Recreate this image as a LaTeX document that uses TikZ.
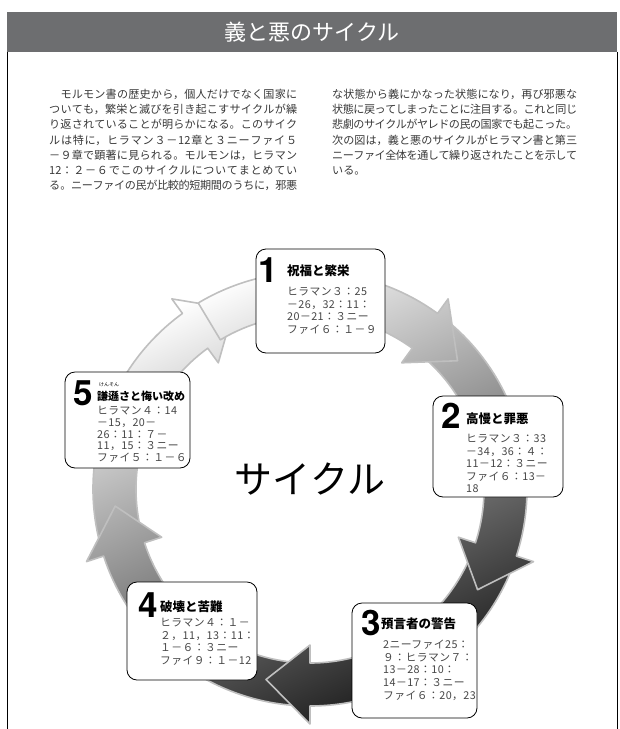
\documentclass[tikz,border=0pt]{standalone}
\usepackage{fontspec}
\setmainfont{Noto Sans CJK JP}
\newfontfamily\numfont{TeX Gyre Heros}
\newfontfamily\reffont[LetterSpace=4]{Noto Sans CJK JP}
\usetikzlibrary{positioning}
\XeTeXlinebreaklocale "ja"
\XeTeXlinebreakskip=0pt plus 2pt minus 1.5pt

\definecolor{barGray}{HTML}{6D6E70}

\tikzset{
  cyclebox/.style={draw=black, line width=0.8pt, fill=white, rounded corners=10pt, inner sep=0pt},
  bignum/.style={font=\numfont\bfseries\fontsize{35}{35}\selectfont, inner sep=0pt, anchor=base west},
  boxtitle/.style={font=\bfseries\fontsize{12.5}{14}\selectfont, inner sep=0pt, anchor=base west},
  refs/.style={font=\reffont\fontsize{10.8}{12.6}\selectfont, text=black!72, align=left, inner sep=0pt, anchor=north west},
  bodytext/.style={font=\fontsize{11.1}{15.2}\selectfont, text=black!78, align=justify, inner sep=0pt, anchor=north west},
  ringshade/.style={top color=white, middle color=black!30, bottom color=black!90, shading angle=25},
  ringedge/.style={draw=black!25, line width=1.6pt, line join=round}
}

\begin{document}
\begin{tikzpicture}[x=1pt,y=-1pt]
  \useasboundingbox (0,0) rectangle (620,729);

  % header
  \fill[barGray] (7,12) rectangle (617,52);
  \node[text=white, font=\fontsize{22}{22}\selectfont] (title) at (312,32) {義と悪のサイクル};
  \draw[line width=0.8pt] (7,52) -- (7,729);
  \draw[line width=0.8pt] (617,52) -- (617,729);

  % intro text
  \node[bodytext, text width=248pt] (leftcol) at (49,89) {\parfillskip=0pt \tolerance=9999
    　モルモン書の歴史から，個人だけでなく国家に\linebreak
    ついても，繁栄と滅びを引き起こすサイクルが繰\linebreak
    り返されていることが明らかになる。このサイク\linebreak
    ルは特に，ヒラマン３－12章と３ニーファイ５\linebreak
    －９章で顕著に見られる。モルモンは，ヒラマン\linebreak
    12：２－６でこのサイクルについてまとめてい\linebreak
    る。ニーファイの民が比較的短期間のうちに，邪悪};
  \node[bodytext, text width=245pt] (rightcol) at (332,89) {\tolerance=9999
    な状態から義にかなった状態になり，再び邪悪な\linebreak
    状態に戻ってしまったことに注目する。これと同じ\linebreak
    悲劇のサイクルがヤレドの民の国家でも起こった。\linebreak
    次の図は，義と悪のサイクルがヒラマン書と第三\linebreak
    ニーファイ全体を通して繰り返されたことを示して\linebreak
    いる。};

  % ring of arrows
  \begin{scope}[shift={(310,489)}]
    \foreach \s/\b/\t in {-167/-234/-247, -95/-162/-175, -23/-90/-103, 49/-18/-31, 121/54/41}{
      \begin{scope}
        \clip (\s:217pt) arc[start angle=\s, end angle=\b, radius=217pt] -- (\b:235pt) -- (\t:195.5pt)
          -- (\b:156pt) -- (\b:174pt) arc[start angle=\b, end angle=\s, radius=174pt] -- cycle;
        \shade[ringshade] (-225,-224) rectangle (230,236);
      \end{scope}
      \draw[ringedge] (\s:217pt) arc[start angle=\s, end angle=\b, radius=217pt] -- (\b:235pt) -- (\t:195.5pt)
        -- (\b:156pt) -- (\b:174pt) arc[start angle=\b, end angle=\s, radius=174pt] -- cycle;
    }
  \end{scope}

  \node[font=\fontsize{38}{38}\selectfont] (cyclelabel) at (310,479) {サイクル};

  % 1
  \node[cyclebox, minimum width=129pt, minimum height=104pt] (box1) at (320.5,301) {};
  \node[bignum] (num1) at (258,282) {1};
  \node[boxtitle] (title1) at (287,275) {祝福と繁栄};
  \node[refs] (refs1) at (287,287) {ヒラマン３：25\\－26，32：11：\\20－21：３ニー\\ファイ６：１－９};

  % 2
  \node[cyclebox, minimum width=130pt, minimum height=101pt] (box2) at (498,446.5) {};
  \node[bignum] (num2) at (441,428) {2};
  \node[boxtitle] (title2) at (466,423) {高慢と罪悪};
  \node[refs] (refs2) at (466,434) {ヒラマン３：33\\－34，36：４：\\11－12：３ニー\\ファイ６：13－\\18};

  % 3
  \node[cyclebox, minimum width=125pt, minimum height=115pt] (box3) at (414.5,660.5) {};
  \node[bignum] (num3) at (361,635) {3};
  \node[boxtitle] (title3) at (381,628) {預言者の警告};
  \node[refs] (refs3) at (383,640) {2ニーファイ25：\\９：ヒラマン７：\\13－28：10：\\14－17：３ニー\\ファイ６：20，23};

  % 4
  \node[cyclebox, minimum width=130pt, minimum height=98pt] (box4) at (192,631) {};
  \node[bignum] (num4) at (138,617) {4};
  \node[boxtitle] (title4) at (160,611) {破壊と苦難};
  \node[refs] (refs4) at (160,618) {ヒラマン４：１－\\２，11，13：11：\\１－６：３ニー\\ファイ９：１－12};

  % 5
  \node[cyclebox, minimum width=125pt, minimum height=96pt] (box5) at (127.5,420) {};
  \node[bignum] (num5) at (73,405) {5};
  \node[font=\fontsize{5}{5}\selectfont, inner sep=0pt, anchor=base west] (ruby5) at (99,386) {けんそん};
  \node[boxtitle, font=\bfseries\fontsize{11}{13}\selectfont] (title5) at (97,400) {謙遜さと悔い改め};
  \node[refs, font=\reffont\fontsize{10.8}{11.8}\selectfont] (refs5) at (97,406) {ヒラマン４：14\\－15，20－\\26：11：７－\\11，15：３ニー\\ファイ５：１－６};
\end{tikzpicture}
\end{document}
